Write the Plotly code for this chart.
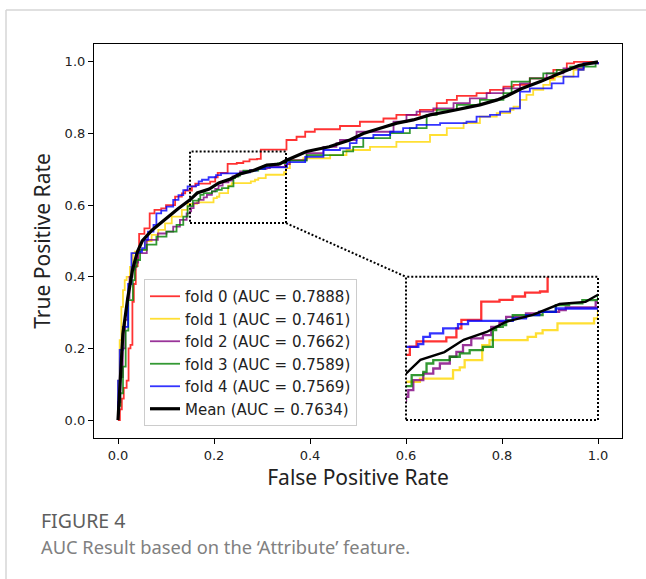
import plotly.graph_objects as go

# ---------------- data ----------------
FOLD0_FPR = [0, 0.004, 0.008, 0.012, 0.018, 0.022, 0.026, 0.030, 0.033, 0.037, 0.041, 0.044, 0.055, 0.066,
             0.076, 0.090, 0.100, 0.119, 0.133, 0.140, 0.154, 0.161, 0.192, 0.2025, 0.2077, 0.2284, 0.2474,
             0.261, 0.274, 0.2896, 0.2975, 0.351, 0.372, 0.390, 0.410, 0.4625, 0.504, 0.553, 0.580, 0.629,
             0.664, 0.685, 0.706, 0.747, 0.775, 0.803, 0.824, 0.858, 0.907, 0.935, 0.950, 1.0]
FOLD0_TPR = [0, 0.03, 0.06, 0.09, 0.11, 0.20, 0.21, 0.33, 0.38, 0.43, 0.47, 0.52, 0.535, 0.577,
             0.587, 0.591, 0.600, 0.624, 0.633, 0.641, 0.6526, 0.660, 0.6656, 0.678, 0.690, 0.7155, 0.7178,
             0.7225, 0.728, 0.7295, 0.755, 0.782, 0.791, 0.805, 0.812, 0.821, 0.833, 0.842, 0.852, 0.866,
             0.885, 0.894, 0.905, 0.913, 0.922, 0.931, 0.936, 0.954, 0.978, 0.996, 1.0, 1.0]

FOLD1_FPR = [0, 0, 0.0035, 0.007, 0.0104, 0.014, 0.018, 0.025, 0.031, 0.035, 0.042, 0.056, 0.070, 0.084,
             0.098, 0.112, 0.133, 0.145, 0.1645, 0.199, 0.206, 0.2111, 0.2294, 0.237, 0.2767, 0.2854, 0.2923,
             0.3078, 0.3459, 0.350, 0.358, 0.386, 0.442, 0.476, 0.525, 0.58, 0.65, 0.685, 0.72, 0.754, 0.789,
             0.817, 0.824, 0.8375, 0.851, 0.865, 0.886, 0.9, 0.91, 0.949, 0.97, 1.0]
FOLD1_TPR = [0, 0.11, 0.223, 0.316, 0.363, 0.391, 0.40, 0.428, 0.466, 0.47, 0.475, 0.50, 0.517, 0.531,
             0.549, 0.568, 0.587, 0.6035, 0.608, 0.6198, 0.6235, 0.6337, 0.6547, 0.6616, 0.6663, 0.671, 0.6756,
             0.685, 0.692, 0.7035, 0.726, 0.731, 0.74, 0.754, 0.763, 0.777, 0.796, 0.815, 0.829, 0.847, 0.857,
             0.866, 0.875, 0.894, 0.908, 0.922, 0.936, 0.95, 0.959, 0.978, 0.996, 1.0]

FOLD2_FPR = [0, 0, 0.005, 0.010, 0.015, 0.020, 0.024, 0.030, 0.036, 0.042, 0.060, 0.083, 0.101, 0.115,
             0.129, 0.143, 0.150, 0.1524, 0.1576, 0.168, 0.1784, 0.1853, 0.1956, 0.2025, 0.2094, 0.218, 0.2301,
             0.2388, 0.2474, 0.2543, 0.275, 0.289, 0.3095, 0.3164, 0.3476, 0.358, 0.393, 0.428, 0.455, 0.4625,
             0.497, 0.574, 0.601, 0.622, 0.657, 0.699, 0.733, 0.768, 0.803, 0.8375, 0.858, 0.893, 0.928, 0.97, 1.0]
FOLD2_TPR = [0, 0.05, 0.12, 0.20, 0.28, 0.34, 0.40, 0.42, 0.44, 0.466, 0.503, 0.521, 0.526, 0.54,
             0.559, 0.577, 0.5825, 0.5919, 0.6058, 0.615, 0.622, 0.629, 0.6384, 0.6453, 0.6547, 0.664, 0.6686,
             0.6802, 0.6872, 0.6942, 0.6988, 0.7012, 0.7035, 0.7072, 0.715, 0.726, 0.745, 0.763, 0.773, 0.782,
             0.805, 0.833, 0.852, 0.861, 0.87, 0.885, 0.898, 0.913, 0.926, 0.94, 0.954, 0.968, 0.982, 0.996, 1.0]

FOLD3_FPR = [0, 0, 0.005, 0.0104, 0.016, 0.0215, 0.031, 0.035, 0.039, 0.046, 0.060, 0.080, 0.101, 0.122,
             0.136, 0.145, 0.1559, 0.168, 0.1714, 0.1784, 0.1956, 0.206, 0.2163, 0.2301, 0.2405, 0.2439, 0.2508,
             0.2543, 0.2612, 0.2923, 0.3061, 0.3199, 0.3337, 0.350, 0.393, 0.469, 0.49, 0.511, 0.567, 0.608,
             0.643, 0.664, 0.706, 0.754, 0.803, 0.82, 0.858, 0.886, 0.914, 0.942, 0.995, 1.0]
FOLD3_TPR = [0, 0.04, 0.075, 0.149, 0.25, 0.335, 0.391, 0.428, 0.447, 0.475, 0.49, 0.512, 0.526, 0.545,
             0.568, 0.5975, 0.6128, 0.6174, 0.629, 0.6337, 0.6384, 0.643, 0.6477, 0.6523, 0.6756, 0.680, 0.6826,
             0.6896, 0.6965, 0.7012, 0.7105, 0.7128, 0.7175, 0.7245, 0.74, 0.75, 0.763, 0.787, 0.801, 0.815,
             0.852, 0.866, 0.88, 0.894, 0.913, 0.945, 0.954, 0.968, 0.978, 0.987, 1.0, 1.0]

FOLD4_FPR = [0, 0, 0.0035, 0.010, 0.021, 0.028, 0.042, 0.050, 0.056, 0.0625, 0.074, 0.080, 0.090, 0.101,
             0.115, 0.126, 0.136, 0.145, 0.1628, 0.168, 0.175, 0.1887, 0.2042, 0.2146, 0.2612, 0.275, 0.2888,
             0.3061, 0.352, 0.39, 0.428, 0.4625, 0.483, 0.497, 0.532, 0.567, 0.594, 0.622, 0.671, 0.726, 0.747,
             0.775, 0.796, 0.817, 0.8375, 0.858, 0.9035, 0.928, 0.959, 0.970, 1.0]
FOLD4_TPR = [0, 0.11, 0.196, 0.26, 0.38, 0.466, 0.47, 0.48, 0.503, 0.526, 0.545, 0.577, 0.585, 0.596,
             0.615, 0.628, 0.642, 0.6523, 0.656, 0.6663, 0.671, 0.678, 0.684, 0.6886, 0.692, 0.6965, 0.7012,
             0.7058, 0.72, 0.735, 0.754, 0.759, 0.773, 0.787, 0.796, 0.805, 0.815, 0.824, 0.829, 0.833, 0.847,
             0.852, 0.861, 0.870, 0.917, 0.926, 0.94, 0.959, 0.978, 0.996, 1.0]

MEAN_FPR = [0, 0.0101, 0.0202, 0.0303, 0.0404, 0.0505, 0.0707, 0.101, 0.125, 0.15, 0.165, 0.19, 0.21,
            0.234, 0.254, 0.282, 0.31, 0.337, 0.35, 0.393, 0.44, 0.483, 0.511, 0.546, 0.581, 0.615, 0.65,
            0.685, 0.72, 0.754, 0.79, 0.81, 0.84, 0.88, 0.92, 0.96, 1.0]
MEAN_TPR = [0, 0.24, 0.34, 0.42, 0.47, 0.50, 0.53, 0.565, 0.59, 0.615, 0.634, 0.645, 0.662,
            0.673, 0.687, 0.697, 0.712, 0.715, 0.725, 0.75, 0.763, 0.782, 0.80, 0.815, 0.829, 0.838, 0.852,
            0.861, 0.87, 0.88, 0.894, 0.905, 0.925, 0.945, 0.968, 0.99, 1.0]

FOLD_NAMES = ["fold 0", "fold 1", "fold 2", "fold 3", "fold 4"]
FOLD_AUC = ["0.7888", "0.7461", "0.7662", "0.7589", "0.7569"]
MEAN_AUC = "0.7634"
FOLD_COLORS = ["rgba(255,0,0,0.8)", "rgba(255,215,0,0.8)", "rgba(128,0,128,0.8)",
               "rgba(0,128,0,0.8)", "rgba(0,0,255,0.8)"]
FOLDS = [(FOLD0_FPR, FOLD0_TPR), (FOLD1_FPR, FOLD1_TPR), (FOLD2_FPR, FOLD2_TPR),
         (FOLD3_FPR, FOLD3_TPR), (FOLD4_FPR, FOLD4_TPR)]

TICK_VALS = [0.0, 0.2, 0.4, 0.6, 0.8, 1.0]
TICK_TEXT = ["0.0", "0.2", "0.4", "0.6", "0.8", "1.0"]
AX_RANGE = [-0.05, 1.05]
ZOOM_X = [0.15, 0.35]
ZOOM_Y = [0.55, 0.75]
INSET_X = [0.6, 1.0]
INSET_Y = [0.0, 0.4]

# ---------------- figure ----------------
W, H = 646, 579
ML, MR, MT, MB = 94, 24, 44, 141
PW, PH = W - ML - MR, H - MT - MB


def xp(px):
    return (px - ML) / PW


def yp(py):
    return (H - MB - py) / PH


def dpx(v):  # data -> paper (main axes share same range on x and y)
    return (v - AX_RANGE[0]) / (AX_RANGE[1] - AX_RANGE[0])


fig = go.Figure()

for i, (fpr, tpr) in enumerate(FOLDS):
    fig.add_trace(go.Scatter(
        x=fpr, y=tpr, mode="lines", line=dict(color=FOLD_COLORS[i], width=1.8, shape="hv"),
        name=f"{FOLD_NAMES[i]} (AUC = {FOLD_AUC[i]})", legendgroup=f"g{i}",
        xaxis="x", yaxis="y"))
fig.add_trace(go.Scatter(
    x=MEAN_FPR, y=MEAN_TPR, mode="lines", line=dict(color="black", width=3.2),
    name=f"Mean (AUC = {MEAN_AUC})", legendgroup="g5", xaxis="x", yaxis="y"))

# inset (zoomed copy of the same data)
for i, (fpr, tpr) in enumerate(FOLDS):
    fig.add_trace(go.Scatter(
        x=fpr, y=tpr, mode="lines", line=dict(color=FOLD_COLORS[i], width=2.3, shape="hv"),
        showlegend=False, legendgroup=f"g{i}", xaxis="x2", yaxis="y2", hoverinfo="skip"))
fig.add_trace(go.Scatter(
    x=MEAN_FPR, y=MEAN_TPR, mode="lines", line=dict(color="black", width=2.4),
    showlegend=False, legendgroup="g5", xaxis="x2", yaxis="y2", hoverinfo="skip"))

tickfont = dict(family="DejaVu Sans", size=13, color="#222222")
titlefont = dict(family="Noto Sans", size=21, color="#222222")
axis_common = dict(range=AX_RANGE, tickvals=TICK_VALS, ticktext=TICK_TEXT, ticks="outside",
                   ticklen=5, tickwidth=1, tickcolor="black", showline=True, mirror=True,
                   linecolor="black", linewidth=1.2, showgrid=False, zeroline=False,
                   tickfont=tickfont)

dot = "2px,2px"
shapes = [
    dict(type="rect", xref="x", yref="y", x0=ZOOM_X[0], x1=ZOOM_X[1], y0=ZOOM_Y[0], y1=ZOOM_Y[1],
         line=dict(color="black", width=2, dash=dot)),
    dict(type="rect", xref="x", yref="y", x0=INSET_X[0], x1=INSET_X[1], y0=INSET_Y[0], y1=INSET_Y[1],
         line=dict(color="black", width=2, dash=dot)),
    dict(type="line", xref="x", yref="y", x0=ZOOM_X[1], y0=ZOOM_Y[0], x1=INSET_X[0], y1=INSET_Y[1],
         line=dict(color="black", width=2, dash=dot)),
    # outer figure frame
    dict(type="line", xref="paper", yref="paper", x0=xp(6), x1=xp(W + 5), y0=yp(10), y1=yp(10),
         line=dict(color="#d6d6d6", width=1.5)),
    dict(type="line", xref="paper", yref="paper", x0=xp(6), x1=xp(6), y0=yp(10), y1=yp(H + 5),
         line=dict(color="#d6d6d6", width=1.5)),
]

annotations = [
    dict(text="FIGURE 4", xref="paper", yref="paper", x=xp(39), y=yp(520), xanchor="left",
         yanchor="middle", showarrow=False, font=dict(family="Noto Sans", size=19.5, color="#5e5e5e")),
    dict(text="AUC Result based on the \u2018Attribute\u2019 feature.", xref="paper", yref="paper",
         x=xp(39), y=yp(546), xanchor="left", yanchor="middle", showarrow=False,
         font=dict(family="Noto Sans", size=18.3, color="#808080")),
]

fig.update_layout(
    width=W, height=H, margin=dict(l=ML, r=MR, t=MT, b=MB),
    paper_bgcolor="white", plot_bgcolor="white",
    xaxis=dict(**axis_common, title=dict(text="False Positive Rate", font=titlefont, standoff=6),
               domain=[0, 1], automargin=False),
    yaxis=dict(**axis_common, title=dict(text="True Positive Rate", font=titlefont, standoff=8),
               domain=[0, 1], automargin=False),
    xaxis2=dict(domain=[dpx(INSET_X[0]), dpx(INSET_X[1])], range=ZOOM_X, anchor="y2",
                visible=False, showgrid=False, zeroline=False),
    yaxis2=dict(domain=[dpx(INSET_Y[0]), dpx(INSET_Y[1])], range=ZOOM_Y, anchor="x2",
                visible=False, showgrid=False, zeroline=False),
    legend=dict(x=xp(144), y=yp(426), xanchor="left", yanchor="bottom",
                bgcolor="rgba(255,255,255,0.85)", bordercolor="#cccccc", borderwidth=1,
                font=dict(family="DejaVu Sans", size=15, color="#222222"),
                tracegroupgap=0, traceorder="grouped", itemwidth=30),
    shapes=shapes, annotations=annotations, showlegend=True,
)

fig.write_html("out.html", config={"displayModeBar": False},
               post_script="document.body.style.margin='0px';")
